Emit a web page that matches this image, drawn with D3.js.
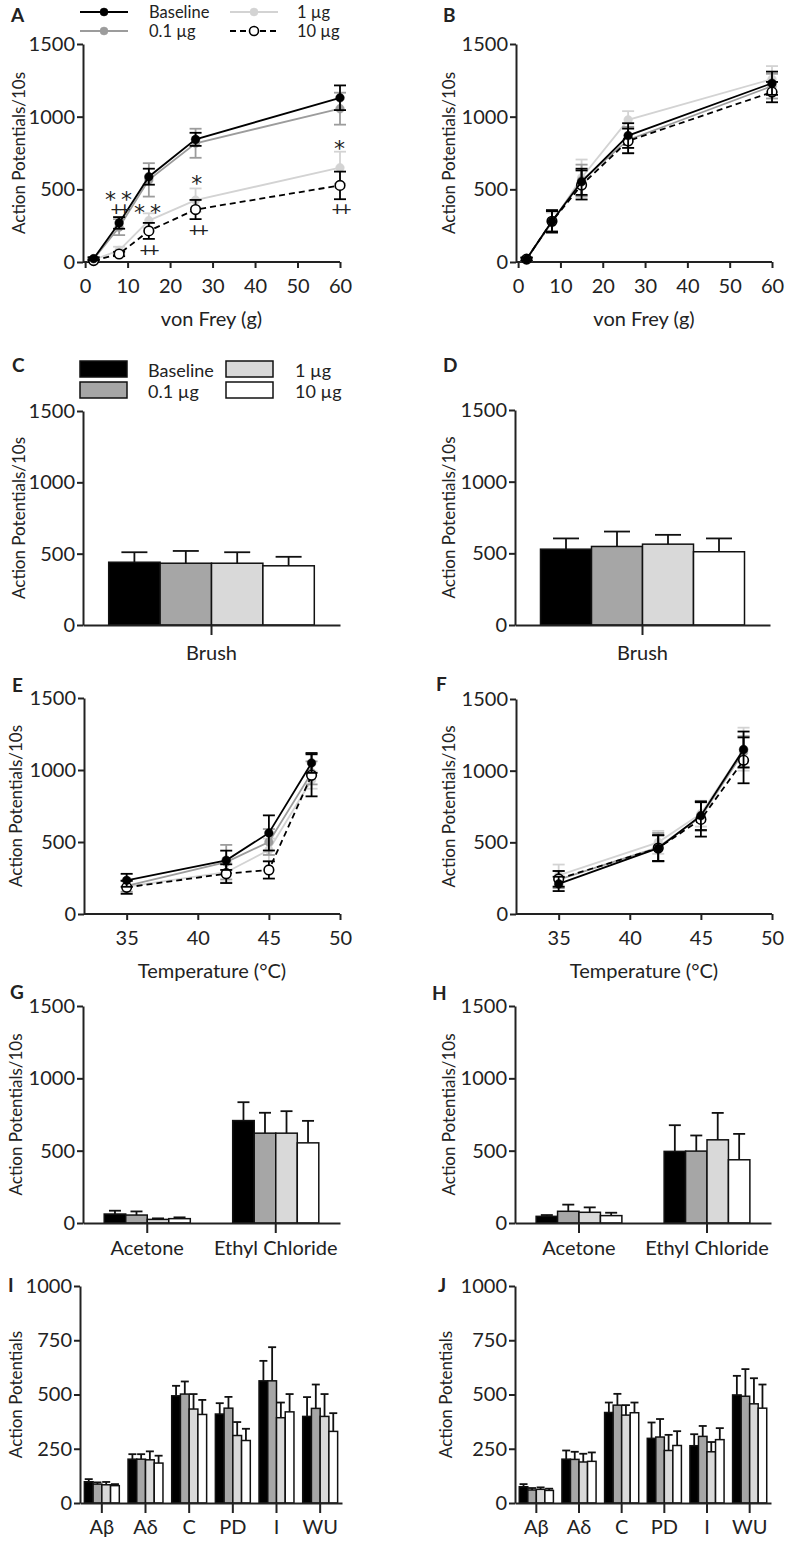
<!DOCTYPE html>
<html><head><meta charset="utf-8">
<script src="https://cdn.jsdelivr.net/npm/d3@7"></script>
<style>
body{margin:0;background:#fff}
svg{display:block}
text{fill:#222}
</style>
</head><body><svg id="c" width="787" height="1547" font-family="Lato,'Open Sans',sans-serif"></svg>
<script>
// ---------- data ----------
const groups = ["Baseline", "0.1 µg", "1 µg", "10 µg"];
const lineColors = ["#000000", "#9c9c9c", "#d3d3d3", "#000000"];
const barColors = ["#000000", "#a6a6a6", "#d9d9d9", "#ffffff"];

const vonFrey = [2, 8, 15, 26, 60];
const vonFreyTicks = [0, 10, 20, 30, 40, 50, 60];
const apTicks1500 = [0, 500, 1000, 1500];
const apTicks1000 = [0, 250, 500, 750, 1000];

// Panel A (mean, SEM) per group
const aMean = [[23, 269, 587, 844, 1130], [20, 240, 565, 817, 1055], [15, 80, 285, 426, 649], [10, 55, 214, 361, 527]];
const aErr  = [[10, 40, 55, 45, 85], [10, 55, 115, 100, 110], [8, 25, 50, 80, 110], [8, 15, 55, 66, 95]];
// significance marks in A: force, level of "*" mark, symbol; level of "++" mark
const sigX = [8, 14.8, 26.4, 60];
const sigStarY = [470, 380, 580, 820];
const sigStarT = ["**", "**", "*", "*"];
const sigPlusY = [362, 83, 220, 365];
const sigPlusT = ["++", "++", "++", "++"];

// Panel B
const bMean = [[20, 280, 552, 870, 1230], [20, 280, 560, 840, 1210], [20, 270, 580, 978, 1258], [20, 280, 530, 833, 1169]];
const bErr  = [[10, 77, 90, 85, 80], [10, 75, 110, 90, 85], [10, 70, 125, 60, 90], [10, 70, 100, 85, 70]];

// Panels C, D (brush)
const brushCats = ["Brush"];
const cMean = [[440], [433], [433], [415]];
const cErr  = [[70], [86], [77], [63]];
const dMean = [[529], [548], [564], [511]];
const dErr  = [[75], [104], [65], [93]];

// Panels E, F (heat)
const temps = [35, 42, 45, 48];
const tempTicks = [35, 40, 45, 50];
const eMean = [[234, 373, 563, 1049], [195, 360, 500, 980], [190, 290, 444, 930], [185, 280, 306, 963]];
const eErr  = [[45, 67, 122, 69], [40, 120, 90, 80], [40, 70, 80, 60], [45, 65, 60, 146]];
const fMean = [[210, 459, 686, 1148], [240, 465, 680, 1130], [270, 500, 700, 1150], [245, 460, 660, 1072]];
const fErr  = [[50, 90, 100, 125], [60, 100, 100, 110], [75, 80, 90, 150], [55, 90, 120, 160]];

// Panels G, H (cold)
const coldCats = ["Acetone", "Ethyl Chloride"];
const gMean = [[62, 708], [55, 621], [25, 621], [30, 554]];
const gErr  = [[23, 127], [25, 141], [7, 152], [9, 152]];
const hMean = [[46, 495], [81, 497], [74, 575], [51, 437]];
const hErr  = [[9, 181], [46, 108], [34, 186], [20, 179]];

// Panels I, J (electrical stimulation)
const fibreCats = ["Aβ", "Aδ", "C", "PD", "I", "WU"];
const iMean = [[98, 202, 494, 410, 563, 399], [87, 202, 502, 437, 563, 436], [84, 199, 433, 311, 393, 399], [80, 184, 408, 288, 420, 330]];
const iErr  = [[12, 23, 46, 50, 92, 89], [8, 23, 58, 52, 155, 110], [13, 39, 69, 62, 70, 103], [7, 34, 67, 54, 82, 84]];
const jMean = [[75, 202, 417, 298, 264, 498], [60, 201, 451, 304, 307, 492], [63, 189, 405, 242, 236, 457], [58, 192, 416, 265, 292, 437]];
const jErr  = [[12, 40, 46, 73, 53, 88], [9, 35, 52, 83, 48, 125], [9, 38, 46, 72, 45, 118], [8, 41, 47, 66, 53, 109]];

// ---------- drawing ----------
const svg = d3.select("#c");
const AX = "#222";
const FS = 20;
const FONT = "Lato,'Open Sans',sans-serif";

function styleAxis(g) {
  g.attr("font-family", FONT);
  g.select(".domain").attr("stroke", AX).attr("stroke-width", 2);
  g.selectAll(".tick line").attr("stroke", AX).attr("stroke-width", 2);
  g.selectAll(".tick text").attr("font-size", FS).attr("fill", AX);
}

function panelLabel(t, x, y) {
  svg.append("text").attr("x", x).attr("y", y).attr("font-size", 19).attr("font-weight", "bold").text(t);
}

function yLabel(t, x, top, bottom) {
  svg.append("text").attr("transform", `translate(${x},${(top + bottom) / 2}) rotate(-90)`)
    .attr("text-anchor", "middle").attr("dominant-baseline", "central").attr("font-size", 17).text(t);
}

function yAxis(y, left, ticks) {
  const g = svg.append("g").attr("transform", `translate(${left},0)`)
    .call(d3.axisLeft(y).tickValues(ticks).tickSize(6).tickPadding(2).tickFormat(d3.format("d")).tickSizeOuter(0));
  styleAxis(g);
}

function lineChart(p) {
  const x = d3.scaleLinear().domain(p.xDomain).range([p.left, p.right]);
  const y = d3.scaleLinear().domain([0, 1500]).range([p.bottom, p.top]);
  yAxis(y, p.left, apTicks1500);
  const gx = svg.append("g").attr("transform", `translate(0,${p.bottom})`)
    .call(d3.axisBottom(x).tickValues(p.xTicks).tickSize(6).tickPadding(11).tickSizeOuter(0));
  gx.select(".domain").attr("d", `M${p.left},0H${p.right}`);
  styleAxis(gx);
  svg.append("text").attr("x", (p.left + p.right) / 2).attr("y", p.bottom + 64)
    .attr("text-anchor", "middle").attr("font-size", FS).text(p.xlabel);
  yLabel("Action Potentials/10s", p.ylx, p.top, p.bottom);

  const order = [2, 1, 3, 0];
  const line = d3.line().x((d, i) => x(p.xs[i])).y(d => y(d));
  order.forEach(gi => {
    const col = lineColors[gi];
    const G = svg.append("g");
    p.means[gi].forEach((m, i) => {
      const e = p.errs[gi][i], cx = x(p.xs[i]);
      G.append("line").attr("x1", cx).attr("x2", cx).attr("y1", y(m - e)).attr("y2", y(m + e)).attr("stroke", col).attr("stroke-width", 1.8);
      [m - e, m + e].forEach(v => G.append("line").attr("x1", cx - 6).attr("x2", cx + 6).attr("y1", y(v)).attr("y2", y(v)).attr("stroke", col).attr("stroke-width", 1.8));
    });
    G.append("path").datum(p.means[gi]).attr("d", line).attr("fill", "none").attr("stroke", col)
      .attr("stroke-width", 1.8).attr("stroke-dasharray", gi === 3 ? "6,4" : null);
    G.selectAll("circle").data(p.means[gi]).join("circle")
      .attr("cx", (d, i) => x(p.xs[i])).attr("cy", d => y(d))
      .attr("r", gi === 3 ? 4.8 : 4.3)
      .attr("fill", gi === 3 ? "#fff" : col).attr("stroke", col).attr("stroke-width", gi === 3 ? 1.6 : 0.5);
  });
  return { x, y };
}

function barChart(p) {
  const x0 = d3.scaleBand().domain(p.cats).range([p.left, p.right]).padding(0);
  const y = d3.scaleLinear().domain([0, p.yMax]).range([p.bottom, p.top]);
  const gw = x0.bandwidth() * p.frac;
  const x1 = d3.scaleBand().domain(d3.range(4)).range([0, gw]).padding(0);
  yAxis(y, p.left, p.yTicks);
  const G = svg.append("g");
  p.means.forEach((arr, gi) => {
    arr.forEach((m, ci) => {
      const bx = x0(p.cats[ci]) + (x0.bandwidth() - gw) / 2 + x1(gi);
      const cx = bx + x1.bandwidth() / 2;
      const top = y(m + p.errs[gi][ci]);
      G.append("line").attr("x1", cx).attr("x2", cx).attr("y1", y(m)).attr("y2", top).attr("stroke", "#111").attr("stroke-width", 1.8);
      G.append("line").attr("x1", cx - p.cap / 2).attr("x2", cx + p.cap / 2).attr("y1", top).attr("y2", top).attr("stroke", "#111").attr("stroke-width", 1.8);
      G.append("rect").attr("x", bx).attr("y", y(m)).attr("width", x1.bandwidth()).attr("height", p.bottom - y(m))
        .attr("fill", barColors[gi]).attr("stroke", "#111").attr("stroke-width", 1.5);
    });
  });
  const gx = svg.append("g").attr("transform", `translate(0,${p.bottom})`)
    .call(d3.axisBottom(x0).tickSize(10).tickPadding(p.pad).tickSizeOuter(0));
  styleAxis(gx);
  yLabel(p.ylab, p.ylx, p.top, p.bottom);
}

// ---- A ----
const A = lineChart({ left: 83, right: 340, top: 44, bottom: 262, xDomain: [-0.5, 60], xTicks: vonFreyTicks,
  xs: vonFrey, means: aMean, errs: aErr, xlabel: "von Frey (g)", ylx: 18 });
const starAttrs = t => t.attr("font-size", 22).attr("font-family", "'DejaVu Sans',sans-serif").attr("letter-spacing", 5);
const plusAttrs = t => t.attr("font-size", 20).attr("font-family", FONT).attr("letter-spacing", -3);
sigX.forEach((sx, i) => {
  const cx = A.x(sx);
  // stacked star / plus pairs share one text element
  const t = svg.append("text").attr("text-anchor", "middle");
  starAttrs(t.append("tspan").attr("x", cx + 2).attr("y", A.y(sigStarY[i]) + 13).text(sigStarT[i]));
  plusAttrs(t.append("tspan").attr("x", cx).attr("y", A.y(sigPlusY[i]) + 7).text(sigPlusT[i]));
});
panelLabel("A", 11, 22);

// legend A
const legA = [[80, 12, 0], [80, 31, 1], [230, 12, 2], [230, 31, 3]];
legA.forEach(([lx, ly, gi]) => {
  const col = lineColors[gi];
  svg.append("line").attr("x1", lx).attr("x2", lx + 48).attr("y1", ly).attr("y2", ly).attr("stroke", col)
    .attr("stroke-width", 1.8).attr("stroke-dasharray", gi === 3 ? "6,4" : null);
  svg.append("circle").attr("cx", lx + 24).attr("cy", ly).attr("r", gi === 3 ? 4.5 : 4)
    .attr("fill", gi === 3 ? "#fff" : col).attr("stroke", col).attr("stroke-width", gi === 3 ? 1.6 : 0.5);
  svg.append("text").attr("x", gi < 2 ? 149 : 297).attr("y", ly).attr("dominant-baseline", "central")
    .attr("font-size", 16.5).text(groups[gi]);
});

// ---- B ----
lineChart({ left: 516, right: 772, top: 44, bottom: 262, xDomain: [-0.5, 60], xTicks: vonFreyTicks,
  xs: vonFrey, means: bMean, errs: bErr, xlabel: "von Frey (g)", ylx: 448 });
panelLabel("B", 443, 22);

// ---- C ----
barChart({ left: 83, right: 340, top: 411, bottom: 625, yMax: 1500, yTicks: apTicks1500, cats: brushCats,
  means: cMean, errs: cErr, frac: 0.8, cap: 26, pad: 11, ylab: "Action Potentials/10s", ylx: 18 });
panelLabel("C", 12, 372);
const legC = [[80, 361, 0], [80, 382, 1], [226, 361, 2], [226, 382, 3]];
legC.forEach(([lx, ly, gi]) => {
  svg.append("rect").attr("x", lx).attr("y", ly).attr("width", 47).attr("height", 16)
    .attr("fill", barColors[gi]).attr("stroke", "#111").attr("stroke-width", 1.5);
  svg.append("text").attr("x", gi < 2 ? 148 : 295).attr("y", ly + 9).attr("dominant-baseline", "central")
    .attr("font-size", 18).text(groups[gi]);
});

// ---- D ----
barChart({ left: 515, right: 770, top: 410, bottom: 625, yMax: 1500, yTicks: apTicks1500, cats: brushCats,
  means: dMean, errs: dErr, frac: 0.8, cap: 26, pad: 11, ylab: "Action Potentials/10s", ylx: 448 });
panelLabel("D", 443, 372);

// ---- E ----
lineChart({ left: 84, right: 340, top: 698, bottom: 914, xDomain: [32, 50], xTicks: tempTicks,
  xs: temps, means: eMean, errs: eErr, xlabel: "Temperature (°C)", ylx: 15 });
panelLabel("E", 12, 692);

// ---- F ----
lineChart({ left: 516, right: 772, top: 699, bottom: 914, xDomain: [32, 50], xTicks: tempTicks,
  xs: temps, means: fMean, errs: fErr, xlabel: "Temperature (°C)", ylx: 448 });
panelLabel("F", 436, 691);

// ---- G ----
barChart({ left: 83, right: 340, top: 1006, bottom: 1223, yMax: 1500, yTicks: apTicks1500, cats: coldCats,
  means: gMean, errs: gErr, frac: 0.67, cap: 12, pad: 8, ylab: "Action Potentials/10s", ylx: 15 });
panelLabel("G", 10, 999);

// ---- H ----
barChart({ left: 515, right: 771, top: 1006, bottom: 1223, yMax: 1500, yTicks: apTicks1500, cats: coldCats,
  means: hMean, errs: hErr, frac: 0.67, cap: 12, pad: 8, ylab: "Action Potentials/10s", ylx: 448 });
panelLabel("H", 432, 1000);

// ---- I ----
barChart({ left: 80, right: 342, top: 1286, bottom: 1503, yMax: 1000, yTicks: apTicks1000, cats: fibreCats,
  means: iMean, errs: iErr, frac: 0.8, cap: 8, pad: 7, ylab: "Action Potentials", ylx: 15 });
panelLabel("I", 8, 1292);

// ---- J ----
barChart({ left: 515, right: 771, top: 1286, bottom: 1503, yMax: 1000, yTicks: apTicks1000, cats: fibreCats,
  means: jMean, errs: jErr, frac: 0.8, cap: 8, pad: 7, ylab: "Action Potentials", ylx: 445 });
panelLabel("J", 438, 1292);
</script>
</body></html>
